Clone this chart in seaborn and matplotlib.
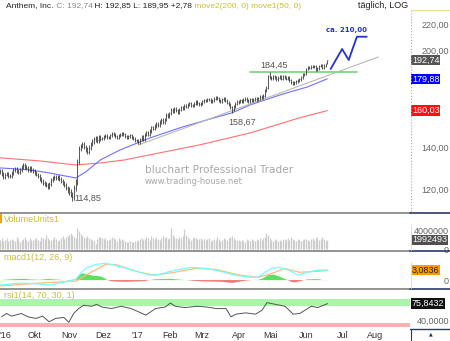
import numpy as np
import pandas as pd
import matplotlib
matplotlib.use("Agg")
import matplotlib.pyplot as plt
from matplotlib.lines import Line2D
from matplotlib.patches import Rectangle
from matplotlib.text import Annotation
import matplotlib.ticker as mticker
import seaborn as sns

# ---------------- data ----------------
close_sep = [127.5,128,126.8,125.5,126.5,127,126,125.8,127.2,128.5,129,128.2,127.5,128.8,130,131,130.2,129.5,128.7,129.8,128.5]
close_oct = [128,127.2,126.5,125.8,124.5,123.5,122.8,122,121.5,121,122.3,123.8,125,125.5,124.8,125.2,124.5,123.5,122.5,121.5,120.2]
close_nov = [119.5,118.5,117.5,116.5,120.5,123,132.5,139,140.5,141.5,140,138.5,137.5,139.5,141.5,143,144,144.5,143.5,145,144.2]
close_dec = [144.5,145.5,146,145.2,144.8,146.2,147,146.5,145.5,144.8,145.8,146.5,147.2,146.8,145.5,144.9,145.6,146.2,145,144.3,143.5]
close_jan = [143.5,142.5,144,145.2,144,146.5,147.8,146.5,148.5,150.5,149.8,151.2,152.5,151.8,153.5,154.8,153.2,155,157.5,156.8]
close_feb = [158.5,160.5,159.5,161,160.2,158.8,160.5,162,161.5,163,162.2,163.8,164.5,163.2,162.8,164,165.2,164.5,163.8]
close_mar = [164.5,165.5,166.2,165.8,167,166.5,165.2,166,167.2,168,167.5,166.2,165.5,166.8,167.5,166,164.8,163.5,162,160.5,162.5,164,165.2]
close_apr = [165.5,166.2,165.8,166.5,167,166.2,165.5,166.8,165.9,166.5,167.2,166.8,167.5,168.2,167.8,169,172.5,174,181.5]
close_may = [181,180.2,181.5,180.8,179.5,180.5,181.2,180,181.5,180.8,179.8,180.5,179,177.5,176.8,177.5,178.2,178.8,179.5,181,182.5,183]
close_jun = [186.5,188,187.5,188.2,187.8,188.5,186,187,188.5,189,187.5,188.8,189.96,192.74]
month_range = [1.8,1.8,2.5,1.6,1.8,1.8,1.8,2.0,2.0,1.8]   # typical daily high-low span per month

vol_sep = [2.1,1.9,2.3,1.8,2.0,2.4,1.7,1.9,2.2,2.0,1.8,2.5,2.1,1.6,1.9,2.2,2.6,2.0,1.8,2.3,2.0]
vol_oct = [1.9,2.2,2.4,2.0,1.8,2.6,2.3,2.1,3.1,2.4,2.0,1.9,2.2,2.5,2.1,1.8,2.0,2.3,2.7,2.2,2.5]
vol_nov = [2.8,3.0,3.4,2.9,2.6,2.4,4.4,3.8,3.2,2.7,2.5,2.3,2.8,2.4,2.1,2.0,1.7,1.2,2.2,2.5,2.6]
vol_dec = [2.3,2.1,2.4,2.0,1.9,2.2,2.6,2.3,2.1,1.8,2.4,2.0,2.2,1.9,1.7,1.6,1.5,1.8,1.6,1.5,1.7]
vol_jan = [1.8,2.0,2.2,2.4,1.9,2.1,2.6,2.3,2.0,2.7,2.4,2.2,2.5,2.1,1.9,2.3,2.8,2.4,2.6,2.2]
vol_feb = [2.4,4.4,3.0,2.6,2.4,2.2,2.5,2.3,2.7,4.3,3.1,2.5,2.2,2.0,2.4,2.6,2.3,2.1,2.2]
vol_mar = [2.3,2.0,2.2,1.9,2.1,2.4,1.8,2.0,2.2,1.9,2.5,2.1,1.8,2.0,2.3,2.1,1.9,2.4,2.6,2.8,2.3,2.0,1.9]
vol_apr = [1.9,1.7,2.0,1.8,1.6,2.1,1.9,1.7,2.2,2.0,1.8,2.1,1.9,2.3,2.0,2.4,2.6,3.4,3.0]
vol_may = [2.4,2.0,1.8,2.1,1.9,1.7,2.0,1.8,2.2,1.9,2.1,2.3,2.0,2.5,2.2,1.9,1.8,2.1,2.0,1.7,1.9,2.1]
vol_jun = [2.2,2.0,1.8,2.1,2.3,1.9,2.4,2.6,2.0,2.2,2.5,2.1,1.8,1.992493]

# marked extremes (trading-day index, price)
mark_idx = [45, 142, 165]
mark_val = [114.85, 158.67, 184.45]
last_high, last_low = 192.85, 189.95

# moving averages (trading-day index, value)
ma50_idx = [1,19,31,47,53,62,74,92,112,133,142,153,162,173,188,200]
ma50_val = [129.6,128.7,127.2,124.9,127.7,133.5,138.5,144.7,150.7,156.3,158.7,163.4,166.4,170.1,174.6,179.88]
ma200_idx = [1,25,47,62,77,92,122,153,183,200]
ma200_val = [134.5,133.0,131.0,132.0,133.5,136.0,141.0,147.4,155.8,160.03]
trend_idx = [85, 231]
trend_val = [141.0, 194.9]
resist_idx = [153, 218]
fc_idx = [202, 209, 213, 218, 224]
fc_val = [186.5, 200.7, 192.8, 210.0, 210.0]

macd_idx = [1,13,25,31,40,47,50,53,59,65,71,80,92,98,107,117,126,135,144,153,158,162,166,171,177,182,186,193,200]
macd_val = [-1.5,-0.9,-1.2,-1.5,-0.6,0.3,2.1,3.6,4.8,5.2,4.5,3.3,1.5,1.8,3.0,3.9,3.6,2.7,1.5,0.9,0.9,2.4,3.6,3.9,3.0,1.5,2.1,3.0,3.0836]
sig_idx = [1,25,47,53,65,71,86,95,107,120,132,147,158,165,174,183,193,200]
sig_val = [-1.8,-0.9,-0.3,1.5,4.8,4.8,2.4,1.5,2.4,3.6,3.3,1.5,0.9,1.8,3.6,2.4,2.7,3.0]
hist_idx = [0,5,10,15,20,25,30,35,40,44,47,49,51,54,57,60,63,66,68,72,78,84,89,92,95,100,105,110,114,118,124,130,136,140,143,146,150,154,158,161,164,167,170,173,176,178,180,183,186,188,192,195,197,200]
hist_val = [0,0.15,0.3,0.4,0.2,0.1,0.35,0.2,0.0,-0.15,0.1,1.4,2.1,1.8,1.4,1.3,1.0,0.1,-0.3,-0.45,-0.5,-0.4,-0.3,0.0,0.25,0.35,0.4,0.15,0.0,-0.2,-0.4,-0.45,-0.5,-0.75,-0.8,-0.5,-0.2,0.0,0.05,0.6,1.5,1.7,1.3,0.6,0.0,-0.5,-0.7,-0.4,0.0,0.25,0.3,0.3,0.0,0.05]

rsi_idx = [1,4,7,13,17,22,26,30,34,39,42,45,48,51,56,59,62,68,74,80,86,89,95,101,104,107,113,120,126,132,138,141,144,150,156,160,163,168,174,179,183,190,194,200]
rsi_val = [47.1,54.4,48.6,54.4,47.1,43.6,48.6,36.4,43.6,45.8,35.1,54.4,65.1,72.2,70,74.3,68.5,65.1,70,65.1,55.7,50.7,65.1,68.5,77.1,70,67.2,70,68.5,65.1,65.1,47.1,52.9,55.7,52.9,61.5,78,74.3,70,52.9,54.4,70,67.2,75.8432]

price_ticks = [120, 140, 200, 220]
holidays = ["2016-09-05","2016-11-24","2016-12-26","2017-01-02","2017-01-16",
            "2017-02-20","2017-04-14","2017-05-29","2017-07-04"]
month_labels = ["'16","Okt","Nov","Dez","'17","Feb","Mrz","Apr","Mai","Jun","Jul","Aug"]

# ---------------- preparation ----------------
sns.set_style("white")
plt.rcParams["font.family"] = ["Liberation Sans", "DejaVu Sans"]

months_c = [close_sep, close_oct, close_nov, close_dec, close_jan, close_feb,
            close_mar, close_apr, close_may, close_jun]
closes = np.array(sum(months_c, []))
vols = np.array(sum([vol_sep, vol_oct, vol_nov, vol_dec, vol_jan, vol_feb,
                     vol_mar, vol_apr, vol_may, vol_jun], []))
n = len(closes)
idx = np.arange(n)
rng = np.repeat(month_range, [len(m) for m in months_c])
opens = np.r_[closes[0], closes[:-1]]
highs = np.maximum(opens, closes) + rng / 2
lows = np.minimum(opens, closes) - rng / 2
lows[mark_idx[0]] = mark_val[0]
lows[mark_idx[1]] = mark_val[1]
highs[mark_idx[2]] = mark_val[2]
highs[-1], lows[-1] = last_high, last_low

days = pd.bdate_range("2016-09-01", "2017-08-31", freq="C", holidays=holidays)
pos_series = pd.Series(np.arange(len(days)), index=days)
month_pos = pos_series.groupby([days.year, days.month]).first().values


def de(v, d=2):
    return f"{v:.{d}f}".replace(".", ",")


W, H = 450, 341
fig = plt.figure(figsize=(W / 100, H / 100), dpi=100, facecolor="white")


def axpos(top, bottom, left=0, right=410):
    return [left / W, 1 - bottom / H, (right - left) / W, (bottom - top) / H]


XL = (0.9, 250.3)
ax = fig.add_axes(axpos(10, 212.5))
axv = fig.add_axes(axpos(213.5, 250.5))
axm = fig.add_axes(axpos(251.5, 289))
axr = fig.add_axes(axpos(289.5, 328))
for a in (ax, axv, axm, axr):
    a.set_xlim(*XL)
    for s in a.spines.values():
        s.set_visible(False)
    a.set_facecolor("white")

YEL = "#c8c030"

# ---------------- main price panel ----------------
ax.set_yscale("log")
ax.set_ylim(110.0, 231.7)
sns.lineplot(x=ma200_idx, y=ma200_val, ax=ax, color="#ff7070", linewidth=0.8)
sns.lineplot(x=ma50_idx, y=ma50_val, ax=ax, color="#7070ff", linewidth=0.8)
sns.lineplot(x=trend_idx, y=trend_val, ax=ax, color="#b8b8b8", linewidth=0.8)
sns.lineplot(x=resist_idx, y=[mark_val[2]] * 2, ax=ax, color="#80d880", linewidth=1.3)
ax.vlines(idx, lows, highs, color="#3a3a3a", linewidth=0.6)
ax.hlines(closes, idx, idx + 0.5, color="#3a3a3a", linewidth=0.4)
sns.lineplot(x=fc_idx, y=fc_val, ax=ax, color="#2233cc", linewidth=1.3,
             sort=False, estimator=None)

ax.yaxis.set_major_locator(mticker.FixedLocator(price_ticks))
ax.yaxis.set_minor_locator(mticker.NullLocator())
ax.yaxis.set_major_formatter(mticker.FuncFormatter(lambda v, p: de(v)))
ax.yaxis.tick_right()
ax.tick_params(axis="y", length=0, pad=8, labelsize=6.5, labelcolor="#666666")
ax.set_xticks([])
ax.set_ylabel("")

ann = dict(textcoords="offset pixels", fontsize=6.5, color="#555555")
ax.annotate(de(mark_val[0]), xy=(mark_idx[0], mark_val[0]), xytext=(2, 2), ha="left", va="center", **ann)
ax.annotate(de(mark_val[1]), xy=(mark_idx[1], mark_val[1]), xytext=(10, -9), ha="center", va="center", **ann)
ax.annotate(de(mark_val[2]), xy=(mark_idx[2], mark_val[2]), xytext=(4, 7), ha="center", va="center", **ann)
ax.annotate("ca. " + de(fc_val[-1]), xy=(fc_idx[3], fc_val[3]), xytext=(-10, 7),
            textcoords="offset pixels", ha="center", va="center", fontsize=5,
            fontweight="bold", color="#2233cc", family="DejaVu Sans")

yx = ax.get_yaxis_transform()
for val, fc in [(closes[-1], "#555555"), (ma50_val[-1], "#0000ff"), (ma200_val[-1], "#ff1010")]:
    ax.annotate(de(val), xy=(1, val), xycoords=yx, xytext=(2, 0), textcoords="offset pixels",
                ha="left", va="center", fontsize=6.5, color="white", annotation_clip=False,
                bbox=dict(boxstyle="square,pad=0.08", fc=fc, ec="none"))

# watermark
fig.text(145 / W, 1 - 170 / H, "bluchart Professional Trader", fontsize=7.6,
         color="#a8a8a8", family="DejaVu Sans", ha="left", va="center")
fig.text(145 / W, 1 - 182 / H, "www.trading-house.net", fontsize=6,
         color="#a8a8a8", family="DejaVu Sans", ha="left", va="center")

# ---------------- volume panel ----------------
axv.set_ylim(-0.25, 7.5)
axv.vlines(idx, 0, vols, color="#cccccc", linewidth=0.9)
axv.set_xticks([])
axv.yaxis.tick_right()
axv.set_yticks([0, 4])
axv.set_yticklabels(["0", "4000000"])
axv.tick_params(axis="y", length=0, pad=28, labelsize=6.5, labelcolor="#666666")
plt.setp(axv.get_yticklabels(), ha="right")
axv.annotate(str(int(round(vols[-1] * 1e6))), xy=(1, vols[-1]), xycoords=axv.get_yaxis_transform(),
             xytext=(2, 0), textcoords="offset pixels", ha="left", va="center", fontsize=6.5,
             color="white", annotation_clip=False,
             bbox=dict(boxstyle="square,pad=0.08", fc="#505050", ec="none"))

# ---------------- MACD panel ----------------
axm.set_ylim(-2.73, 8.79)
hx = np.array(hist_idx, dtype=float)
hv = np.array(hist_val)
axm.fill_between(hx, 0, hv, where=hv >= 0, interpolate=True, color="#5ee05e", linewidth=0)
axm.fill_between(hx, 0, hv, where=hv <= 0, interpolate=True, color="#f07070", linewidth=0)
sns.lineplot(x=sig_idx, y=sig_val, ax=axm, color="#ffbb80", linewidth=0.9)
sns.lineplot(x=macd_idx, y=macd_val, ax=axm, color="#70ffff", linewidth=0.9)
axm.set_xticks([])
axm.yaxis.tick_right()
axm.set_yticks([0])
axm.set_yticklabels(["0"])
axm.tick_params(axis="y", length=0, pad=28, labelsize=6.5, labelcolor="#666666")
plt.setp(axm.get_yticklabels(), ha="right")
axm.annotate(de(macd_val[-1], 4), xy=(1, macd_val[-1]), xycoords=axm.get_yaxis_transform(),
             xytext=(2, 0), textcoords="offset pixels", ha="left", va="center", fontsize=6.5,
             color="#222222", annotation_clip=False,
             bbox=dict(boxstyle="square,pad=0.08", fc="#ff9900", ec="none"))
axm.set_ylabel("")

# ---------------- RSI panel ----------------
axr.set_ylim(22.8, 106.5)
axr.axhspan(70, 85, color="#aaf5aa", linewidth=0)
axr.axhspan(25, 33.5, color="#f8b0b0", linewidth=0)
sns.lineplot(x=rsi_idx, y=rsi_val, ax=axr, color="#555555", linewidth=0.7)
axr.yaxis.tick_right()
axr.set_yticks([40])
axr.set_yticklabels([de(40, 4)])
axr.tick_params(axis="y", length=0, pad=28, labelsize=6.5, labelcolor="#666666")
plt.setp(axr.get_yticklabels(), ha="right")
axr.annotate(de(rsi_val[-1], 4), xy=(1, rsi_val[-1]), xycoords=axr.get_yaxis_transform(),
             xytext=(2, 0), textcoords="offset pixels", ha="left", va="center", fontsize=6.5,
             color="white", annotation_clip=False,
             bbox=dict(boxstyle="square,pad=0.08", fc="#111111", ec="none"))
axr.set_xticks(month_pos)
axr.set_xticklabels(month_labels)
axr.tick_params(axis="x", length=0, pad=2.5, labelsize=6.5, labelcolor="#333333")
axr.get_xticklabels()[0].set_ha("left")
axr.set_ylabel("")
for a in (ax, axv, axm, axr):
    a.set_xlabel("")

# ---------------- frame / decorations ----------------
def hline(ypx, x0, x1, color, lw=1.0, ls="-"):
    fig.add_artist(Line2D([x0 / W, x1 / W], [1 - ypx / H] * 2, color=color, lw=lw, ls=ls))


def vline(xpx, y0, y1, color, lw=1.0, ls="-"):
    fig.add_artist(Line2D([xpx / W] * 2, [1 - y0 / H, 1 - y1 / H], color=color, lw=lw, ls=ls))


for ypx in (212.8, 250.8, 289.2):
    hline(ypx, 0, 410, "#808080", 1.2)
    hline(ypx, 410, 450, "#2c3a66", 1.2)
hline(328.5, 410, 450, "#2c3a66", 1.0)
vline(410.5, 328.5, 341, "#2c3a66", 0.8)
fig.text(431 / W, 1 - 334 / H, "\u25b2", fontsize=3.5, color="#1a2a88", ha="center", va="center",
         family="DejaVu Sans")
vline(411, 10, 212, "#e0a840", 0.8, ":")
hline(10, 411, 450, "#f0dc90", 0.8)
vline(411, 224, 250, "#f0e0a0", 0.7)
vline(411, 262, 288, "#f0e0a0", 0.7)
fig.add_artist(Rectangle((0, 1 - 223 / H), 2 / W, 10 / H, color="#f0a020", lw=0))

# panel titles
fig.text(4 / W, 1 - 219 / H, "VolumeUnits1", fontsize=6.5, color=YEL, va="center")
fig.text(4 / W, 1 - 258 / H, "macd1(12, 26, 9)", fontsize=6.5, color=YEL, va="center")
fig.text(4 / W, 1 - 295 / H, "rsi1(14, 70, 30, 1)", fontsize=6.5, color=YEL, va="center")

# header line (segments chained one after another)
chg = closes[-1] - closes[-2]
parts = [("Anthem, Inc.", "#222222"),
         (f" C: {de(closes[-1])}", "#888888"),
         (f" H: {de(highs[-1])} L: {de(lows[-1])} {'+' if chg >= 0 else ''}{de(chg)}", "#222222"),
         (" move2(200, 0) move1(50, 0)", YEL)]
HFS = 6.0
cur = fig.text(6 / W, 1 - 6 / H, parts[0][0], fontsize=HFS, color=parts[0][1], va="center")
for s, c in parts[1:]:
    cur = fig.add_artist(Annotation(s, xy=(1, 0), xycoords=cur, xytext=(0, 0),
                                    textcoords="offset points", ha="left", va="bottom",
                                    fontsize=HFS, color=c))
fig.text(358 / W, 1 - 6 / H, "t\u00e4glich, LOG", fontsize=6.5, color="#222222", va="center")

fig.savefig("out.png", dpi=100, facecolor="white")
